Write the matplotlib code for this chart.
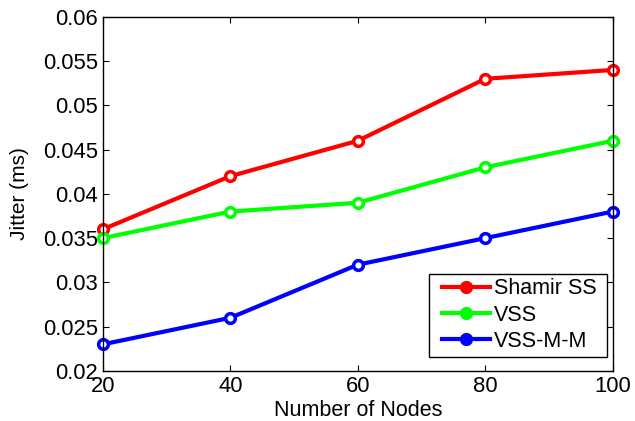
import matplotlib
matplotlib.use("Agg")
import matplotlib.pyplot as plt
from matplotlib.patches import Rectangle

nodes = [20, 40, 60, 80, 100]
shamir = [0.036, 0.042, 0.046, 0.053, 0.054]
vss = [0.035, 0.038, 0.039, 0.043, 0.046]
vss_mm = [0.023, 0.026, 0.032, 0.035, 0.038]
yticks = [0.02, 0.025, 0.03, 0.035, 0.04, 0.045, 0.05, 0.055, 0.06]
ytick_labels = ["0.02", "0.025", "0.03", "0.035", "0.04", "0.045", "0.05", "0.055", "0.06"]
xticks = [20, 40, 60, 80, 100]

plt.rcParams['font.family'] = ['Liberation Sans', 'DejaVu Sans']

fig = plt.figure(figsize=(6.35, 4.21), dpi=100)
ax = fig.add_axes([0.162, 0.119, 0.803, 0.841])

series = [("Shamir SS", shamir, "#ff0000"), ("VSS", vss, "#00ff00"), ("VSS-M-M", vss_mm, "#0000ff")]
for name, vals, c in series:
    ax.plot(nodes, vals, color=c, linewidth=3, marker='o', markersize=7,
            markerfacecolor='white', markeredgecolor=c, markeredgewidth=2.5,
            clip_on=False, label=name)

ax.set_xlim(20, 100)
ax.set_ylim(0.02, 0.06)
ax.set_xticks(xticks)
ax.set_yticks(yticks)
ax.set_yticklabels(ytick_labels)
ax.tick_params(direction='in', top=True, right=True, labelsize=15.8, length=4, width=0.8)
for s in ax.spines.values():
    s.set_linewidth(1.0)
ax.set_xlabel("Number of Nodes", fontsize=15.5, labelpad=2)
ax.set_ylabel("Jitter (ms)", fontsize=15, labelpad=10)

leg = ax.legend(loc='lower right', bbox_to_anchor=(0.978, 0.04), fontsize=15.5, frameon=False,
                borderpad=0.22, labelspacing=0.25, handlelength=2.2, handletextpad=0.2,
                borderaxespad=0.0)
leg.set_zorder(6)
for h in leg.legend_handles:
    h.set_markerfacecolor(h.get_color())

# legend frame, wider horizontally than the legend content box
fig.canvas.draw()
bb = leg.get_window_extent().transformed(ax.transAxes.inverted())
dx_left = 9.0 / ax.bbox.width
dx_right = 5.0 / ax.bbox.width
frame = Rectangle((bb.x0 - dx_left, bb.y0), bb.width + dx_left + dx_right, bb.height,
                  transform=ax.transAxes, facecolor='white', edgecolor='black',
                  linewidth=1.0, zorder=5.5, clip_on=False)
ax.add_patch(frame)

fig.savefig("out.png", dpi=100)
